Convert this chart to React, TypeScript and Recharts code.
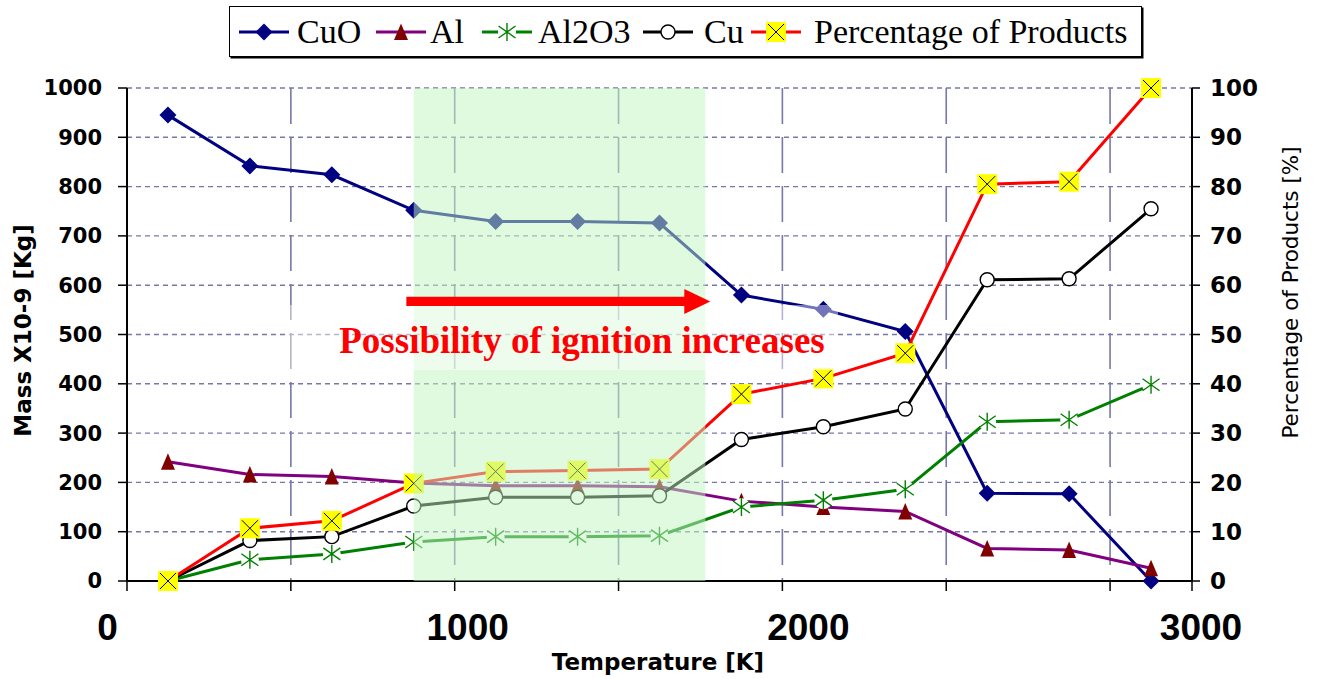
import React from 'react';
import {
  ComposedChart,
  Line,
  XAxis,
  YAxis,
  CartesianGrid,
  ReferenceArea,
  ReferenceLine,
  ReferenceDot,
  Legend,
} from 'recharts';

// 13 equally spaced measurement steps (category centres on the x axis)
const steps = [0.5, 1.5, 2.5, 3.5, 4.5, 5.5, 6.5, 7.5, 8.5, 9.5, 10.5, 11.5, 12.5];
const cuOMass = [945, 842, 824, 752, 729, 729, 726, 580, 551, 506, 178, 177, 0];
const alMass = [242, 216, 212, 199, 193, 193, 191, 162, 150, 141, 66, 63, 26];
const al2o3Mass = [0, 43, 55, 79, 90, 90, 92, 150, 164, 186, 323, 327, 398];
const cuMass = [0, 82, 90, 152, 170, 170, 173, 287, 313, 349, 611, 613, 755];
const productPct = [0, 10.7, 12.2, 19.8, 22.2, 22.4, 22.7, 37.9, 41.1, 46.2, 80.5, 81.0, 100];

const massTicks = [0, 100, 200, 300, 400, 500, 600, 700, 800, 900, 1000];
const pctTicks = [0, 10, 20, 30, 40, 50, 60, 70, 80, 90, 100];
const stepTicks = [0, 2, 4, 6, 8, 10, 12, 13];
const tempTickSteps = [0, 4, 8, 13];
const tempTickLabels = ['0', '1000', '2000', '3000'];
const seriesNames = ['CuO', 'Al', 'Al2O3', 'Cu', 'Percentage of Products'];
const annotationText = 'Possibility of ignition increases';

const data = steps.map((s, i) => ({
  step: s,
  CuO: cuOMass[i],
  Al: alMass[i],
  Al2O3: al2o3Mass[i],
  Cu: cuMass[i],
  Pct: productPct[i],
}));

// ---- styling ----
const series = [
  { key: 'CuO', color: '#000080', marker: 'diamond', axis: 'left' },
  { key: 'Al', color: '#800080', marker: 'triangle', axis: 'left' },
  { key: 'Al2O3', color: '#008000', marker: 'star', axis: 'left' },
  { key: 'Cu', color: '#000000', marker: 'circle', axis: 'left' },
  { key: 'Pct', color: '#ff0000', marker: 'square', axis: 'right' },
];
const legendLayout = [
  { lineX: 9, textX: 67 },
  { lineX: 146, textX: 200 },
  { lineX: 252, textX: 308 },
  { lineX: 413, textX: 474 },
  { lineX: 521, textX: 584 },
];
const tempLabelShift = [-19.5, 13, 26, 9];

const SANS = '"DejaVu Sans", Verdana, sans-serif';
const ARIAL = '"Liberation Sans", Arial, sans-serif';
const SERIF = '"Liberation Serif", "Times New Roman", serif';
const GRID = '#7878a8';

function Marker({ kind, cx, cy }: { kind: string; cx: number; cy: number }) {
  if (cx == null || cy == null || isNaN(cx) || isNaN(cy)) return <g />;
  switch (kind) {
    case 'diamond': {
      const r = 8.5;
      return (
        <polygon
          points={`${cx},${cy - r} ${cx + r},${cy} ${cx},${cy + r} ${cx - r},${cy}`}
          fill="#000080"
        />
      );
    }
    case 'triangle':
      return (
        <polygon
          points={`${cx},${cy - 8.5} ${cx + 7},${cy + 8} ${cx - 7},${cy + 8}`}
          fill="#800000"
        />
      );
    case 'star':
      return (
        <g>
          <circle cx={cx} cy={cy} r={9} fill="#ffffff" />
          <path
            d={`M${cx} ${cy - 9}V${cy + 9}M${cx - 8.5} ${cy - 6}L${cx + 8.5} ${cy + 6}M${cx - 8.5} ${cy + 6}L${cx + 8.5} ${cy - 6}`}
            stroke="#008000"
            strokeWidth={1.4}
            fill="none"
          />
        </g>
      );
    case 'circle':
      return <circle cx={cx} cy={cy} r={7} fill="#ffffff" stroke="#000000" strokeWidth={1.4} />;
    case 'square':
      return (
        <g>
          <rect x={cx - 10} y={cy - 10} width={20} height={20} fill="#ffff00" />
          <path
            d={`M${cx - 8} ${cy - 8}L${cx + 8} ${cy + 8}M${cx - 8} ${cy + 8}L${cx + 8} ${cy - 8}`}
            stroke="#000000"
            strokeWidth={1}
            fill="none"
          />
        </g>
      );
    default:
      return <g />;
  }
}

const LegendBox = () => (
  <div
    style={{
      width: 913,
      height: 51,
      boxSizing: 'border-box',
      border: '1.5px solid #000',
      boxShadow: '1.5px 1.5px 0 #000',
      background: '#fff',
    }}
  >
    <svg width={910} height={48} style={{ display: 'block' }}>
      {series.map((s, i) => {
        const l = legendLayout[i];
        return (
          <g key={s.key}>
            <line x1={l.lineX} x2={l.lineX + 50} y1={25} y2={25} stroke={s.color} strokeWidth={3} />
            <Marker kind={s.marker} cx={l.lineX + 25} cy={25} />
            <text x={l.textX} y={36} fontFamily={SERIF} fontSize={34} fill="#000">
              {seriesNames[i]}
            </text>
          </g>
        );
      })}
    </svg>
  </div>
);

const XTick = (props: any) => {
  const { x, y, payload } = props;
  const idx = tempTickSteps.indexOf(payload.value);
  if (idx < 0) return <g />;
  return (
    <text
      x={x + tempLabelShift[idx]}
      y={y + 47}
      textAnchor="middle"
      fontFamily={ARIAL}
      fontWeight="bold"
      fontSize={37}
      fill="#000"
    >
      {tempTickLabels[idx]}
    </text>
  );
};

const XTitle = (props: any) => {
  const vb = props.viewBox || { x: 127, y: 581, width: 1065, height: 98 };
  return (
    <text
      x={vb.x + vb.width / 2 - 1.5}
      y={vb.y + 89}
      textAnchor="middle"
      fontFamily={SANS}
      fontWeight="bold"
      fontSize={23}
      fill="#000"
    >
      Temperature [K]
    </text>
  );
};

const LeftTitle = (props: any) => {
  const vb = props.viewBox || { x: 0, y: 88, width: 127, height: 493 };
  const x = vb.x + 31;
  const y = vb.y + vb.height / 2 - 4;
  return (
    <text
      x={x}
      y={y}
      transform={`rotate(-90, ${x}, ${y})`}
      textAnchor="middle"
      fontFamily={SANS}
      fontWeight="bold"
      fontSize={23}
      fill="#000"
    >
      Mass X10-9 [Kg]
    </text>
  );
};

const RightTitle = (props: any) => {
  const vb = props.viewBox || { x: 1192, y: 88, width: 126, height: 493 };
  const x = vb.x + 106;
  const y = vb.y + vb.height / 2 - 42;
  return (
    <text
      x={x}
      y={y}
      transform={`rotate(-90, ${x}, ${y})`}
      textAnchor="middle"
      fontFamily={SANS}
      fontSize={21.5}
      fill="#000"
    >
      Percentage of Products [%]
    </text>
  );
};

const Arrow = (props: any) => {
  const { x1, y1, x2 } = props;
  if (x1 == null || isNaN(x1)) return <g />;
  const head = 26;
  const hx = x2 - head;
  return (
    <polygon
      points={`${x1},${y1 - 4.6} ${hx},${y1 - 4.6} ${hx},${y1 - 12.5} ${x2},${y1} ${hx},${y1 + 12.5} ${hx},${y1 + 4.6} ${x1},${y1 + 4.6}`}
      fill="#ff0000"
    />
  );
};

export default function App() {
  return (
    <div style={{ position: 'absolute', left: 0, top: 0, width: 1318, height: 679, background: '#fff' }}>
      <ComposedChart width={1318} height={679} data={data} margin={{ top: 88, right: 0, bottom: 0, left: 0 }}>
        <CartesianGrid
          yAxisId="left"
          vertical={false}
          stroke={GRID}
          strokeWidth={1.4}
          strokeDasharray="5 4"
        />
        <CartesianGrid
          yAxisId="left"
          horizontal={false}
          stroke={GRID}
          strokeWidth={1.6}
          strokeDasharray="36 13"
        />
        <XAxis
          dataKey="step"
          type="number"
          domain={[0, 13]}
          ticks={stepTicks}
          interval={0}
          height={98}
          tickSize={10}
          tick={XTick}
          axisLine={{ stroke: '#000', strokeWidth: 2 }}
          tickLine={{ stroke: '#000', strokeWidth: 1.5 }}
          label={(p: any) => <XTitle {...p} />}
        />
        <YAxis
          yAxisId="left"
          orientation="left"
          width={127}
          domain={[0, 1000]}
          ticks={massTicks}
          interval={0}
          tickSize={9}
          tickMargin={16}
          axisLine={{ stroke: '#000', strokeWidth: 2 }}
          tickLine={{ stroke: '#000', strokeWidth: 1.5 }}
          tick={{ fill: '#000', fontSize: 21, fontWeight: 'bold', fontFamily: SANS }}
          label={(p: any) => <LeftTitle {...p} />}
        />
        <YAxis
          yAxisId="right"
          orientation="right"
          width={126}
          domain={[0, 100]}
          ticks={pctTicks}
          interval={0}
          tickSize={8}
          tickMargin={10}
          axisLine={{ stroke: '#000', strokeWidth: 2 }}
          tickLine={{ stroke: '#000', strokeWidth: 1.5 }}
          tick={{ fill: '#000', fontSize: 23, fontWeight: 'bold', fontFamily: SANS }}
          label={(p: any) => <RightTitle {...p} />}
        />
        <Legend
          layout="horizontal"
          verticalAlign="middle"
          align="center"
          width={913}
          height={51}
          wrapperStyle={{ top: 6, left: 229, width: 913, height: 51 }}
          content={() => <LegendBox />}
        />
        {series.map((s) => (
          <Line
            key={s.key}
            yAxisId={s.axis}
            dataKey={s.key}
            type="linear"
            stroke={s.color}
            strokeWidth={3}
            isAnimationActive={false}
            activeDot={false}
            dot={(p: any) => <Marker key={`${s.key}-${p.index}`} kind={s.marker} cx={p.cx} cy={p.cy} />}
          />
        ))}
        <ReferenceArea
          yAxisId="left"
          x1={3.5}
          x2={7.06}
          y1={0}
          y2={1000}
          fill="rgb(194,245,194)"
          fillOpacity={0.51}
          stroke="none"
          ifOverflow="visible"
          zIndex={1500}
        />
        <ReferenceArea
          yAxisId="left"
          x1={1.93}
          x2={8.68}
          y1={428}
          y2={560}
          fill="#ffffff"
          fillOpacity={0.45}
          stroke="none"
          ifOverflow="visible"
          zIndex={1600}
        />
        <ReferenceLine
          yAxisId="left"
          segment={[
            { x: 3.41, y: 567 },
            { x: 7.12, y: 567 },
          ]}
          shape={Arrow}
          ifOverflow="visible"
          zIndex={1700}
        />
        <ReferenceDot
          yAxisId="left"
          x={5.554}
          y={490}
          r={0}
          fill="none"
          stroke="none"
          ifOverflow="visible"
          zIndex={1800}
          label={{
            value: annotationText,
            position: 'center',
            fill: '#ff0000',
            fontSize: 37,
            fontWeight: 'bold',
            fontFamily: SERIF,
          }}
        />
      </ComposedChart>
    </div>
  );
}
